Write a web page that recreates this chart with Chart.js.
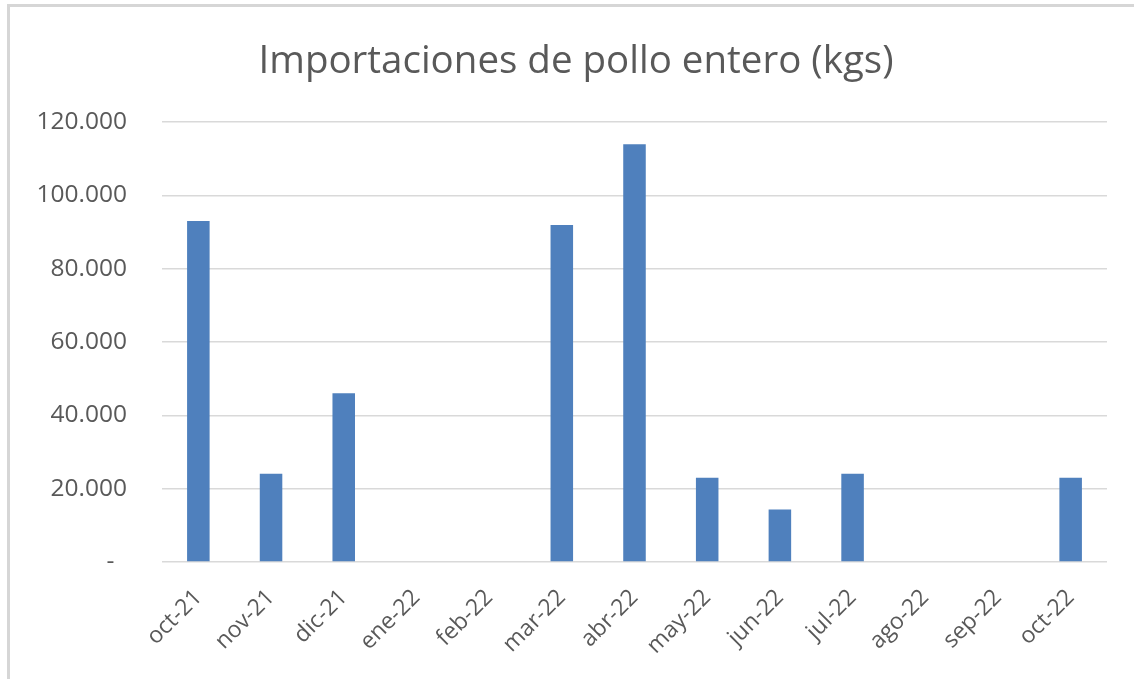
<!DOCTYPE html>
<html lang="es">
<head>
<meta charset="utf-8">
<title>Importaciones de pollo entero (kgs)</title>
<script src="https://cdn.jsdelivr.net/npm/chart.js@4/dist/chart.umd.min.js"></script>
<style>
    html, body { margin: 0; padding: 0; background: #ffffff; overflow: hidden; }
    #frame {
        position: absolute; left: 7px; top: 4px; width: 1200px; height: 800px;
        border-left: 3px solid #d6d6d6; border-top: 3px solid #d6d6d6;
    }
    #wrap { position: absolute; left: 0; top: 0; width: 1134px; height: 679px; }
</style>
</head>
<body>
<div id="frame"></div>
<div id="wrap"><canvas id="importsChart" width="1134" height="679"></canvas></div>
<script>
// Months shown on the x axis
const months = ['oct-21', 'nov-21', 'dic-21', 'ene-22', 'feb-22', 'mar-22', 'abr-22',
                'may-22', 'jun-22', 'jul-22', 'ago-22', 'sep-22', 'oct-22'];

// Kilograms imported per month
const kgs = [93000, 24100, 46000, 0, 0, 91900, 113900, 23000, 14300, 24100, 0, 0, 23000];

// Y axis tick values and their labels
const yTickValues = [0, 20000, 40000, 60000, 80000, 100000, 120000];
const yTickLabels = ['-', '20.000', '40.000', '60.000', '80.000', '100.000', '120.000'];

const chartTitle = 'Importaciones de pollo entero (kgs)';

const textColor = '#595959';
const gridColor = '#d9d9d9';
const fontFamily = "'Open Sans', 'DejaVu Sans', sans-serif";

// Excel centres the title over the whole frame, not over the plot,
// so draw it ourselves instead of using the title plugin
const frameTitle = {
    id: 'frameTitle',
    afterDraw: function(chart) {
        const c = chart.ctx;
        c.save();
        c.font = '38.5px ' + fontFamily;
        c.fillStyle = textColor;
        c.textAlign = 'center';
        c.textBaseline = 'middle';
        c.fillText(chartTitle, 576, 62);
        c.restore();
    }
};

document.addEventListener('DOMContentLoaded', function() {
    const ctx = document.getElementById('importsChart').getContext('2d');
    new Chart(ctx, {
        type: 'bar',
        data: {
            labels: months,
            datasets: [{
                label: 'kgs',
                data: kgs,
                backgroundColor: '#4f80bd',
                borderWidth: 0,
                categoryPercentage: 1,
                barPercentage: 0.31
            }]
        },
        plugins: [frameTitle],
        options: {
            responsive: false,
            animation: false,
            layout: { padding: { left: 0, right: 27, top: 122, bottom: 0 } },
            plugins: {
                legend: { display: false },
                tooltip: { enabled: false },
                title: { display: false }
            },
            scales: {
                x: {
                    grid: { display: false },
                    border: { display: false },
                    ticks: {
                        color: textColor,
                        font: { family: fontFamily, size: 23 },
                        autoSkip: false,
                        minRotation: 45,
                        maxRotation: 45,
                        padding: 14
                    },
                    afterFit: function(scale) { scale.height = 117; }
                },
                y: {
                    min: 0,
                    max: 120000,
                    afterBuildTicks: function(scale) {
                        scale.ticks = yTickValues.map(v => ({ value: v }));
                    },
                    grid: { color: gridColor, lineWidth: 1.5, drawTicks: false },
                    border: { display: false },
                    ticks: {
                        color: textColor,
                        font: { family: fontFamily, size: 24.5 },
                        padding: 35,
                        callback: function(value) {
                            const i = yTickValues.indexOf(value);
                            const label = i >= 0 ? yTickLabels[i] : '';
                            return label === '-' ? '-  ' : label;
                        }
                    },
                    afterFit: function(scale) { scale.width = 162; }
                }
            }
        }
    });
});
</script>
</body>
</html>
